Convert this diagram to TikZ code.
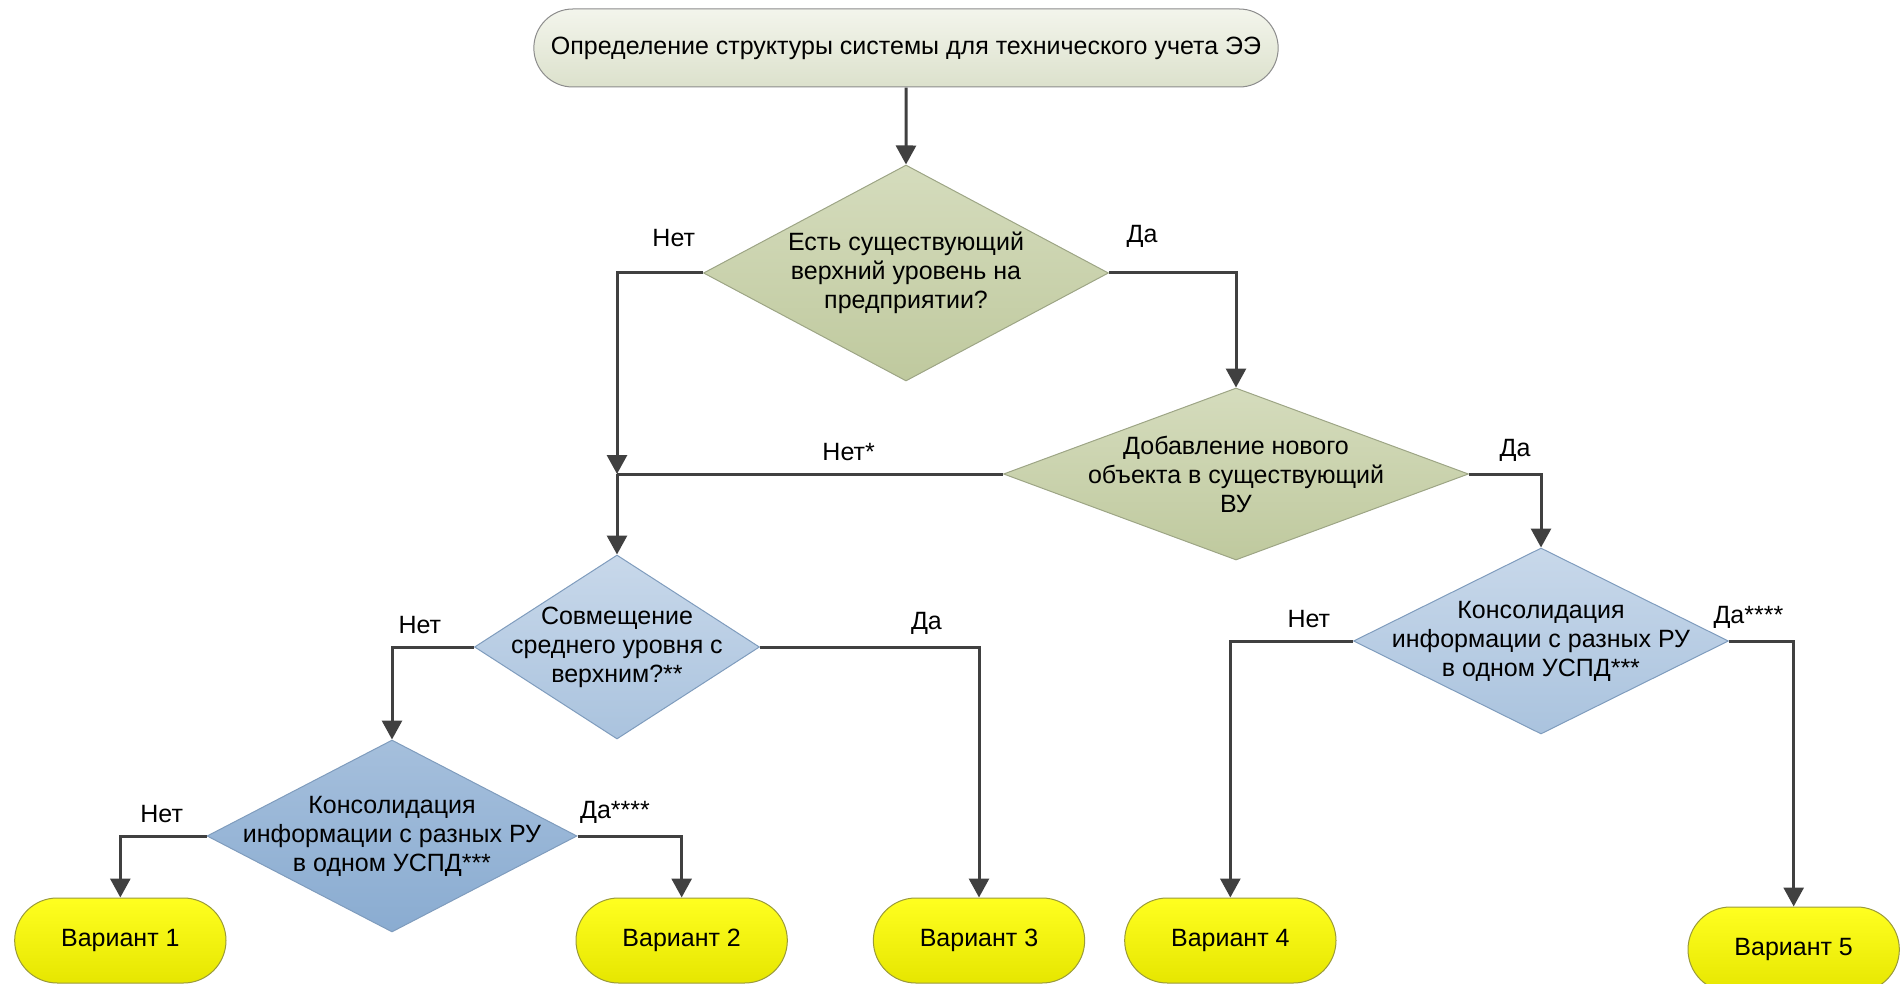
\documentclass[tikz,border=0pt]{standalone}
\usepackage{fontspec}
\setmainfont{Liberation Sans}
\usepackage{xcolor}
\usepackage{tikz}
\usetikzlibrary{arrows.meta,positioning,shapes.geometric,shapes.misc}
\definecolor{linegray}{HTML}{404040}
\definecolor{framegray}{HTML}{8C8C8C}
\definecolor{startlight}{HTML}{F3F5EC}
\definecolor{startdark}{HTML}{DCE1CC}
\definecolor{olivelight}{HTML}{D5DCBD}
\definecolor{olivedark}{HTML}{BFC99E}
\definecolor{oliveedge}{HTML}{9DA585}
\definecolor{bluelight}{HTML}{C8D8EA}
\definecolor{bluedark}{HTML}{AAC3DE}
\definecolor{blueedge}{HTML}{7F9CBD}
\definecolor{deeplight}{HTML}{A5BFDC}
\definecolor{deepdark}{HTML}{8AACD1}
\definecolor{yellowlight}{HTML}{FFFF20}
\definecolor{yellowdark}{HTML}{E6E600}
\definecolor{yellowedge}{HTML}{9A9A3A}
\tikzset{
  flow/.style={-{Triangle[length=19pt,width=20pt]}, line width=3pt, draw=linegray},
  link/.style={line width=3pt, draw=linegray},
  answer/.style={font=\fontsize{25pt}{29pt}\selectfont, text=black},
  startbox/.style={rounded rectangle, draw=framegray, line width=1pt,
              top color=startlight, bottom color=startdark,
              minimum width=751pt, minimum height=78pt,
              font=\fontsize{25pt}{29pt}\selectfont},
  decision/.style={diamond, draw, line width=1pt, align=center,
              inner xsep=-150pt, inner ysep=-45pt,
              font=\fontsize{25pt}{29pt}\selectfont},
  olivedec/.style={decision, draw=oliveedge, top color=olivelight, bottom color=olivedark},
  bluedec/.style={decision, draw=blueedge, top color=bluelight, bottom color=bluedark},
  deepdec/.style={decision, draw=blueedge, top color=deeplight, bottom color=deepdark},
  variant/.style={rounded rectangle, draw=yellowedge, line width=1pt,
              top color=yellowlight, bottom color=yellowdark,
              minimum width=218pt, minimum height=85pt,
              font=\fontsize{25pt}{29pt}\selectfont}
}

\begin{document}
\begin{tikzpicture}[x=1pt, y=1pt]
  \useasboundingbox (0,0) rectangle (1904,-984);

  \node[startbox] (start) at (906,-48) {Определение структуры системы для технического учета ЭЭ};

  \node[olivedec, below=77pt of start, minimum width=405pt, minimum height=216pt] (upper) {Есть существующий\\верхний уровень на\\предприятии?};
  \node[olivedec, below=6pt of upper, xshift=330pt, minimum width=465pt, minimum height=172pt] (newobj) {Добавление нового\\объекта в существующий\\ВУ};

  \node[bluedec, below=173pt of upper, xshift=-289pt, minimum width=285pt, minimum height=184pt] (merge) {Совмещение\\среднего уровня с\\верхним?**};
  \node[bluedec, right=593pt of merge, yshift=6pt, minimum width=375pt, minimum height=186pt] (consright) {Консолидация\\информации с разных РУ\\в одном УСПД***};
  \node[deepdec, below=0pt of merge, xshift=-225pt, minimum width=370pt, minimum height=192pt] (consleft) {Консолидация\\информации с разных РУ\\в одном УСПД***};

  \node[variant, below=158pt of merge, xshift=362pt] (v3) {Вариант 3};
  \node[variant, left=85pt of v3] (v2) {Вариант 2};
  \node[variant, left=349pt of v2] (v1) {Вариант 1};
  \node[variant, right=39pt of v3] (v4) {Вариант 4};
  \node[variant, right=351pt of v4, yshift=-9pt] (v5) {Вариант 5};

  \coordinate (join) at (merge.north |- newobj.west);

  \draw[flow] (start) -- (upper);
  \draw[flow] (upper.west) -| node[answer, pos=0.17, above=21pt] {Нет} (join);
  \draw[flow] (upper.east) -| node[answer, pos=0.13, above=21pt] {Да} (newobj.north);
  \draw[link] (newobj.west) -- node[answer, pos=0.4, above=8pt] {Нет*} (join);
  \draw[flow] (join) -- (merge.north);
  \draw[flow] (newobj.east) -| node[answer, pos=0.32, above=8pt] {Да} (consright.north);
  \draw[flow] (merge.west) -| node[answer, pos=0.33, above=8pt] {Нет} (consleft.north);
  \draw[flow] (merge.east) -| node[answer, pos=0.38, above=8pt] {Да} (v3.north);
  \draw[flow] (consleft.west) -| node[answer, pos=0.26, above=8pt] {Нет} (v1.north);
  \draw[flow] (consleft.east) -| node[answer, pos=0.18, above=8pt] {Да****} (v2.north);
  \draw[flow] (consright.west) -| node[answer, pos=0.18, above=8pt] {Нет} (v4.north);
  \draw[flow] (consright.east) -| node[answer, pos=0.15, above=8pt] {Да****} (v5.north);
\end{tikzpicture}
\end{document}
